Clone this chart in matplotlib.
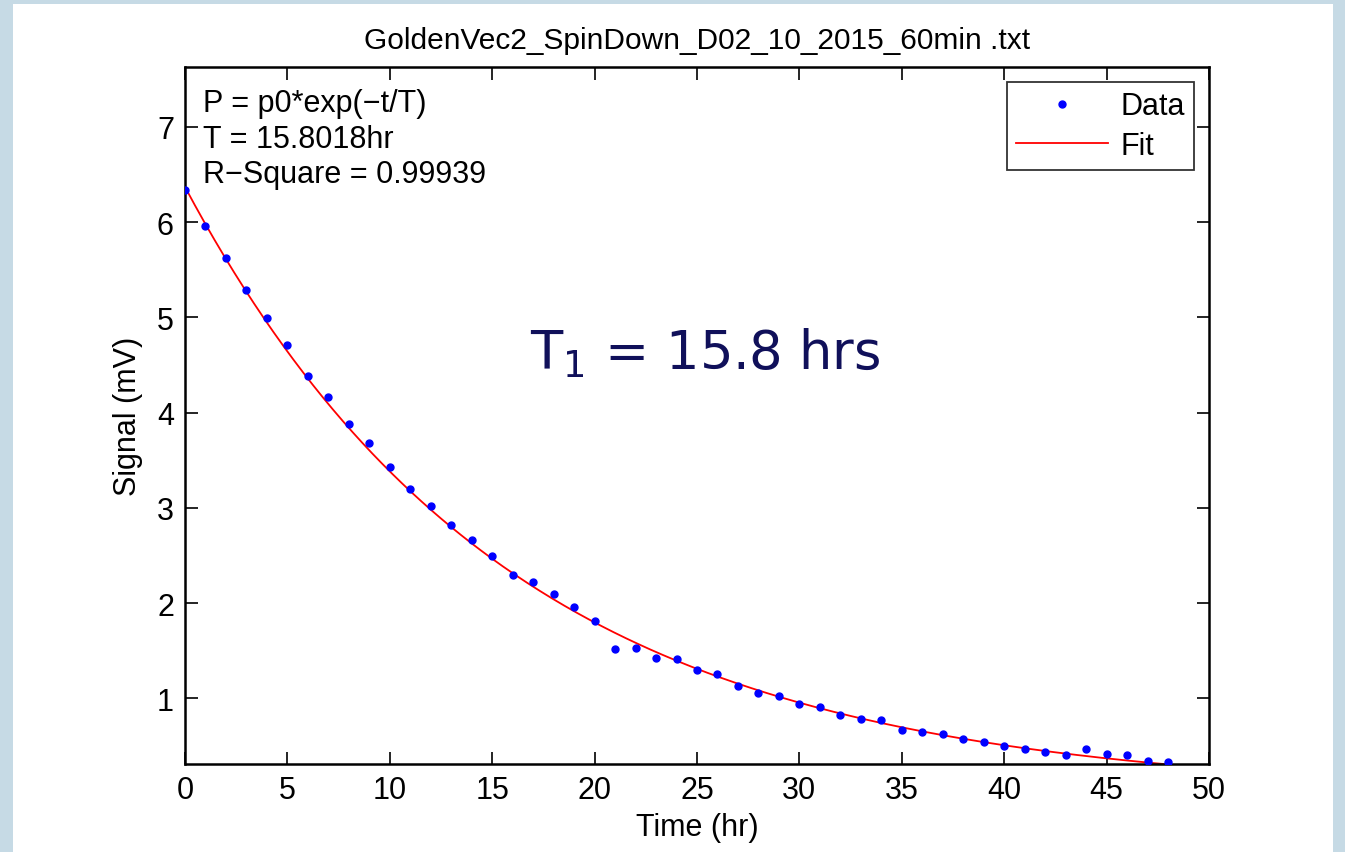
import numpy as np
import matplotlib.pyplot as plt
from matplotlib.patches import Rectangle

plt.rcParams['font.family'] = ['Liberation Sans', 'DejaVu Sans']

# Measured signal, one point per hour
time_hr = list(range(0, 49))
signal_mv = [6.34, 5.96, 5.62, 5.29, 4.99, 4.71, 4.38, 4.16, 3.88, 3.68,
             3.43, 3.20, 3.02, 2.82, 2.66, 2.49, 2.30, 2.22, 2.10, 1.96,
             1.81, 1.52, 1.53, 1.42, 1.41, 1.30, 1.26, 1.13, 1.06, 1.02,
             0.94, 0.91, 0.82, 0.78, 0.77, 0.67, 0.65, 0.63, 0.57, 0.54,
             0.50, 0.47, 0.44, 0.40, 0.47, 0.41, 0.40, 0.34, 0.33]

# Fit parameters P = p0*exp(-t/T)
p0 = 6.37
T_fit = 15.8018

fig = plt.figure(figsize=(13.45, 8.53), dpi=100)
fig.patch.set_facecolor('#c6dae5')
fig.patches.append(Rectangle((13 / 1345, 0), 1320 / 1345, 848 / 853,
                             transform=fig.transFigure, facecolor='white',
                             edgecolor='none', zorder=-10))

ax = fig.add_axes([185 / 1345, 1 - 765 / 853, 1024 / 1345, 697 / 853])

t_fit = np.linspace(0, 48, 400)
ax.plot(time_hr, signal_mv, '.', color='#0000ff', markersize=10, label='Data', zorder=3)
ax.plot(t_fit, p0 * np.exp(-t_fit / T_fit), color='#ff0000', lw=1.3, label='Fit')

ax.set_xlim(0, 50)
ax.set_ylim(0.31, 7.63)
ax.set_xticks(range(0, 51, 5))
ax.set_yticks(range(1, 8))
ax.tick_params(direction='in', length=9, width=1.2, labelsize=22, top=True, right=True, pad=8)
for s in ax.spines.values():
    s.set_linewidth(1.8)

ax.set_title('GoldenVec2_SpinDown_D02_10_2015_60min .txt', fontsize=21.5, pad=14)
ax.set_xlabel('Time (hr)', fontsize=22, labelpad=5)
ax.set_ylabel('Signal (mV)', fontsize=22, labelpad=10)

ax.text(0.018, 0.97, 'P = p0*exp(\u2212t/T)\nT = 15.8018hr\nR\u2212Square = 0.99939',
        transform=ax.transAxes, fontsize=22, va='top', ha='left', linespacing=1.25)

ax.text(0.508, 0.59, 'T$_1$ = 15.8 hrs', transform=ax.transAxes, fontsize=38,
        color='#10105a', ha='center', va='center', family='DejaVu Sans')

leg = ax.legend(loc='upper right', fontsize=22, frameon=True, fancybox=False,
                edgecolor='black', markerfirst=True, handlelength=3.0,
                borderaxespad=0.5, labelspacing=0.3, borderpad=0.3,
                handletextpad=0.4)
leg.get_frame().set_linewidth(1.3)

fig.savefig('out.png', dpi=100, facecolor=fig.get_facecolor())
